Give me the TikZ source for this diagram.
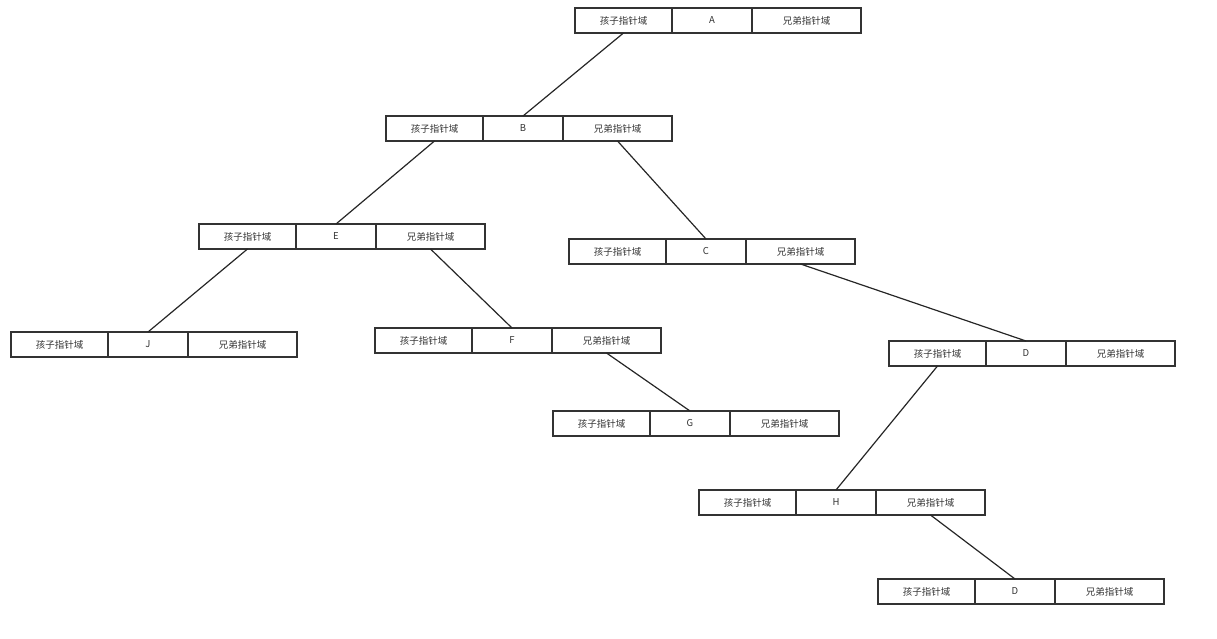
\documentclass[tikz,border=0pt]{standalone}
\usepackage{fontspec}
\setmainfont{Noto Sans CJK SC}
\begin{document}
\begin{tikzpicture}[x=1pt,y=-1pt,
  boxcell/.style={draw=black!80,line width=1.3pt,minimum height=25pt,inner sep=0pt,outer sep=0pt,
    font=\fontsize{9.5}{10}\selectfont,text=black!80},
  boxchild/.style={boxcell,minimum width=97pt},
  boxmid/.style={boxcell,minimum width=80pt},
  boxsib/.style={boxcell,minimum width=109pt},
  link/.style={draw=black!85,line width=1.2pt}]
\useasboundingbox (0,0) rectangle (1217,639);
\newcommand\rec[4]{%
  \node[boxchild,anchor=north west] (#1c) at (#2,#3) {孩子指针域};
  \node[boxmid,anchor=west] (#1m) at (#1c.east) {#4};
  \node[boxsib,anchor=west] (#1s) at (#1m.east) {兄弟指针域};}
\rec{A}{575}{8}{A}
\rec{B}{386}{116}{B}
\rec{E}{199}{224}{E}
\rec{C}{569}{239}{C}
\rec{J}{11}{332}{J}
\rec{F}{375}{328}{F}
\rec{D}{889}{341}{D}
\rec{G}{553}{411}{G}
\rec{H}{699}{490}{H}
\rec{K}{878}{579}{D}
\draw[link] (Ac.south) -- (Bm.north);
\draw[link] (Bc.south) -- (Em.north);
\draw[link] (Bs.south) -- (Cm.north);
\draw[link] (Ec.south) -- (Jm.north);
\draw[link] (Es.south) -- (Fm.north);
\draw[link] (Cs.south) -- (Dm.north);
\draw[link] (Fs.south) -- (Gm.north);
\draw[link] (Dc.south) -- (Hm.north);
\draw[link] (Hs.south) -- (Km.north);
\end{tikzpicture}
\end{document}
